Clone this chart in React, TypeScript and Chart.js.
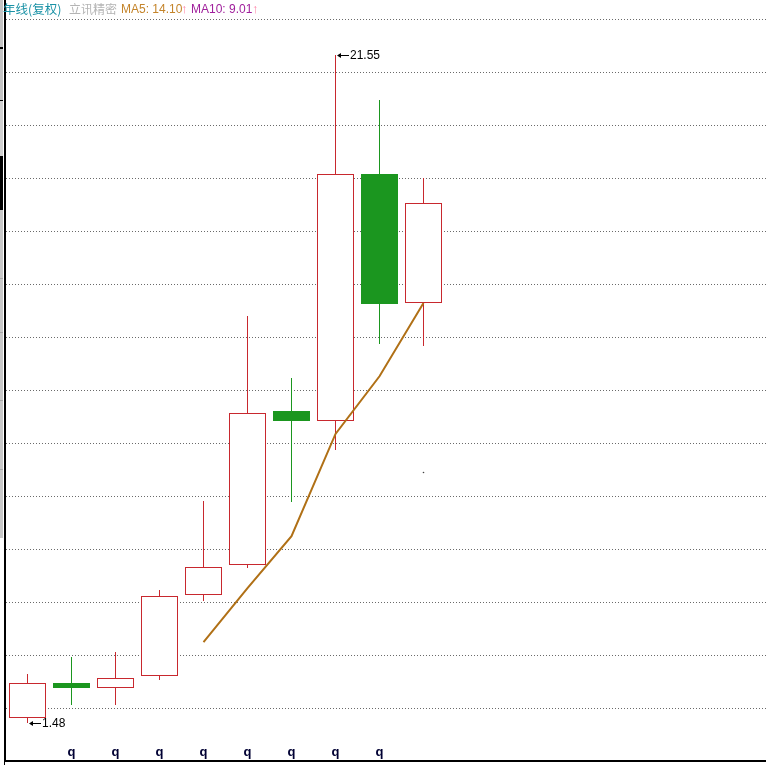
import React, { useEffect, useRef } from 'react';
import { Chart, registerables } from 'chart.js';

Chart.register(...registerables);

// ---- data (annual candles, 复权) ----
const categories = ['Y1', 'Y2', 'Y3', 'Y4', 'Y5', 'Y6', 'Y7', 'Y8', 'Y9', 'Y10'];
const xLabels = ['', 'q', 'q', 'q', 'q', 'q', 'q', 'q', 'q', ''];
const opens = [1.65, 2.68, 2.55, 2.91, 5.32, 6.22, 10.86, 10.55, 17.98, 14.11];
const closes = [2.70, 2.54, 2.85, 5.29, 6.16, 10.79, 10.56, 17.97, 14.07, 17.10];
const highs = [2.95, 3.46, 3.61, 5.48, 8.15, 13.71, 11.85, 21.55, 20.20, 17.85];
const lows = [1.48, 2.03, 2.03, 2.79, 5.15, 6.15, 8.13, 9.70, 12.88, 12.82];
const ma5 = [null, null, null, null, 3.92, 5.54, 7.10, 10.17, 11.90, 14.10];
const ma10 = [null, null, null, null, null, null, null, null, null, 9.01];
const gridValues = [22.62, 21.03, 19.44, 17.85, 16.26, 14.66, 13.07, 11.48, 9.89, 8.30, 6.70, 5.11, 3.52, 1.93];
const yMin = 0.348;
const yMax = 23.2;

const RED = '#c8282e';
const GREEN = '#1b961f';
const MA5_COLOR = '#b07016';

const W = 766;
const H = 765;
const AXIS_LEFT = 5;
const SLOT = 44;
const X_MIN = -22.5 / SLOT;
const X_MAX = X_MIN + (W - AXIS_LEFT) / SLOT;

const up = closes.map((c, i) => c >= opens[i]);

const crispPlugin = {
  id: 'crisp',
  afterDatasetsUpdate(chart: any) {
    chart.data.datasets.forEach((_: any, di: number) => {
      const meta = chart.getDatasetMeta(di);
      if (meta.type !== 'bar') return;
      meta.data.forEach((el: any) => {
        el.x = Math.floor(el.x + 0.01) + 0.5;
        el.y = Math.round(el.y);
        el.base = Math.round(el.base);
        el.height = el.base - el.y;
      });
    });
  },
};

const extremesPlugin = {
  id: 'extremes',
  afterDatasetsDraw(chart: any) {
    const { ctx, scales } = chart;
    let hi = 0;
    let lo = 0;
    highs.forEach((h, i) => { if (h > highs[hi]) hi = i; });
    lows.forEach((l, i) => { if (l < lows[lo]) lo = i; });
    const marks = [
      { i: hi, v: highs[hi] },
      { i: lo, v: lows[lo] },
    ];
    ctx.save();
    marks.forEach(({ i, v }) => {
      const x = Math.round(scales.x.getPixelForValue(i));
      const y = Math.round(scales.y.getPixelForValue(v)) + 0.5;
      ctx.strokeStyle = '#000';
      ctx.fillStyle = '#000';
      ctx.lineWidth = 1;
      ctx.beginPath();
      ctx.moveTo(x + 3, y);
      ctx.lineTo(x + 13, y);
      ctx.stroke();
      ctx.beginPath();
      ctx.moveTo(x + 1, y);
      ctx.lineTo(x + 5, y - 2.5);
      ctx.lineTo(x + 5, y + 2.5);
      ctx.closePath();
      ctx.fill();
      ctx.font = '12px "Liberation Sans", Arial, sans-serif';
      ctx.textBaseline = 'middle';
      ctx.textAlign = 'left';
      ctx.fillText(v.toFixed(2), x + 14, y);
    });
    ctx.restore();
  },
};

export default function App() {
  const ref = useRef<HTMLCanvasElement | null>(null);

  useEffect(() => {
    if (!ref.current) return;
    const chart = new Chart(ref.current, {
      type: 'bar',
      data: {
        labels: categories,
        datasets: [
          {
            type: 'line',
            label: 'MA5',
            data: ma5.map((v, i) => ({ x: i, y: v })) as any,
            borderColor: MA5_COLOR,
            borderWidth: 2,
            pointRadius: 0,
            spanGaps: false,
            fill: false,
          } as any,
          {
            type: 'line',
            label: 'MA10',
            data: ma10.map((v, i) => ({ x: i, y: v })) as any,
            borderColor: '#444',
            backgroundColor: '#444',
            borderWidth: 0,
            pointRadius: 0.8,
            pointBorderWidth: 0,
            showLine: false,
          } as any,
          {
            label: 'body',
            data: opens.map((o, i) => ({ x: i, y: [o, closes[i]] })) as any,
            backgroundColor: up.map((u) => (u ? '#ffffff' : GREEN)),
            borderColor: up.map((u) => (u ? RED : GREEN)),
            borderWidth: 1,
            borderSkipped: false,
            barThickness: 37,
            inflateAmount: 0,
            grouped: false,
          } as any,
          {
            label: 'wick',
            data: lows.map((l, i) => ({ x: i, y: [l, highs[i]] })) as any,
            backgroundColor: up.map((u) => (u ? RED : GREEN)),
            borderWidth: 0,
            barThickness: 1,
            inflateAmount: 0,
            grouped: false,
          } as any,
        ],
      },
      options: {
        animation: false,
        responsive: false,
        maintainAspectRatio: false,
        layout: { padding: 0, autoPadding: false },
        plugins: {
          legend: { display: false },
          tooltip: { enabled: false },
          title: { display: false },
        },
        scales: {
          x: {
            type: 'linear',
            position: 'bottom',
            min: X_MIN,
            max: X_MAX,
            offset: false,
            grid: { display: false, drawTicks: false, offset: false },
            border: { display: true, color: '#000', width: 2 },
            ticks: {
              mirror: true,
              padding: 1,
              autoSkip: false,
              maxRotation: 0,
              minRotation: 0,
              color: '#000033',
              font: { family: '"Liberation Sans", Arial, sans-serif', size: 13, weight: 'bold' },
              callback: (v: any) => xLabels[Math.round(Number(v))] ?? '',
            },
            afterBuildTicks: (s: any) => {
              s.ticks = xLabels.map((_, i) => ({ value: i }));
            },
            afterFit: (s: any) => {
              s.height = H - 761;
            },
          },
          y: {
            type: 'linear',
            position: 'left',
            min: yMin,
            max: yMax,
            grid: {
              display: true,
              drawTicks: false,
              color: '#6a6a6a',
              lineWidth: 1,
            },
            border: { display: true, color: '#000', width: 2, dash: [1, 2] },
            ticks: { display: false },
            afterBuildTicks: (s: any) => {
              s.ticks = gridValues.map((v) => ({ value: v }));
            },
            afterFit: (s: any) => {
              s.width = AXIS_LEFT;
            },
          },
        } as any,
      },
      plugins: [crispPlugin, extremesPlugin],
    } as any);
    return () => chart.destroy();
  }, []);

  const latinFont = '"Liberation Sans", "Noto Sans CJK SC", Arial, sans-serif';
  const cjkFont = '"Noto Sans CJK SC", "Liberation Sans", sans-serif';
  const span = (left: number, color: string, text: string, font: string, size = 12) => (
    <span
      style={{
        position: 'absolute',
        left,
        top: 2,
        fontSize: size,
        lineHeight: '14px',
        color,
        fontFamily: font,
        whiteSpace: 'nowrap',
      }}
    >
      {text}
    </span>
  );

  const strip = (top: number, height: number, color: string) => (
    <div style={{ position: 'absolute', left: 0, top, width: 3, height, background: color }} />
  );

  return (
    <div style={{ position: 'fixed', left: 0, top: 0, width: W, height: H, background: '#fff', overflow: 'hidden' }}>
      <canvas ref={ref} width={W} height={H} style={{ position: 'absolute', left: 0, top: 0, display: 'block' }} />
      {strip(0, 47, '#c4c4c4')}
      {strip(47, 2, '#000')}
      {strip(49, 51, '#c4c4c4')}
      {strip(100, 1, '#000')}
      {strip(101, 55, '#d0d0d0')}
      {strip(156, 54, '#000')}
      {strip(210, 68, '#c8c8c8')}
      {strip(278, 1, '#a8a8a8')}
      {strip(279, 53, '#c8c8c8')}
      {strip(332, 1, '#a8a8a8')}
      {strip(333, 67, '#c8c8c8')}
      {strip(400, 1, '#a8a8a8')}
      {strip(401, 68, '#c8c8c8')}
      {strip(469, 1, '#a8a8a8')}
      {strip(470, 68, '#c8c8c8')}
      <div style={{ position: 'absolute', left: 4, top: 761, width: 1, height: 4, background: '#000' }} />
      {span(3, '#1a92a6', '年线(复权)', cjkFont, 12.5)}
      {span(69, '#b4b4b4', '立讯精密', cjkFont)}
      {span(121, '#c4842a', `MA5: ${(ma5[ma5.length - 1] as number).toFixed(2)}`, latinFont)}
      {span(181, '#ff85a8', '↑', latinFont, 13)}
      {span(191, '#a0209c', `MA10: ${(ma10[ma10.length - 1] as number).toFixed(2)}`, latinFont)}
      {span(252, '#ff85a8', '↑', latinFont, 13)}
    </div>
  );
}
